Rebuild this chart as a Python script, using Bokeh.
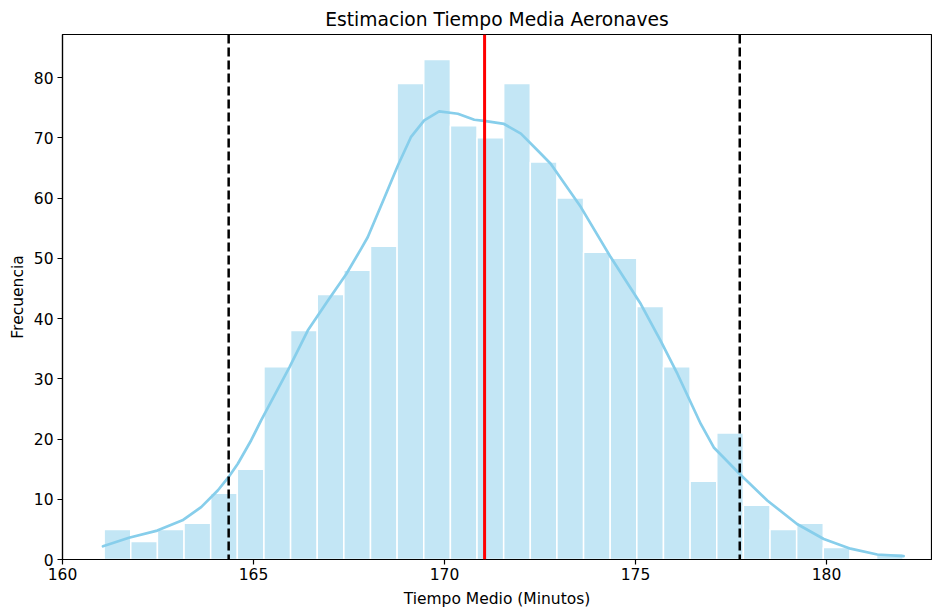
import numpy as np
from bokeh.plotting import figure
from bokeh.models import ColumnDataSource, Span, FixedTicker, Range1d
from bokeh.embed import file_html
from bokeh.resources import INLINE

# ---- data ----
bin_start = 161.09
bin_width = 0.6973
counts = [5, 3, 5, 6, 11, 15, 32, 38, 44, 48, 52, 79, 83, 72, 70,
          79, 66, 60, 51, 50, 42, 32, 13, 21, 9, 5, 6, 2, 0, 1]

kde_x = [161.06, 161.74, 162.48, 163.14, 163.63, 164.07, 164.35, 164.59, 164.94,
         165.20, 165.94, 166.42, 166.95, 167.43, 167.82, 167.99, 168.43, 168.78,
         169.12, 169.47, 169.86, 170.35, 170.78, 171.04, 171.56, 172.00, 172.44,
         172.78, 173.57, 174.35, 175.14, 175.66, 176.10, 176.71, 177.05, 177.73,
         178.45, 179.23, 179.93, 180.63, 181.33, 182.02]
kde_y = [2.2, 3.6, 4.8, 6.5, 8.7, 11.5, 13.7, 15.9, 19.8,
         23.1, 31.9, 38.0, 43.0, 47.4, 51.6, 53.5, 60.1, 65.4,
         70.1, 72.9, 74.4, 74.0, 73.0, 72.8, 72.3, 70.7, 67.9,
         65.7, 58.5, 50.2, 42.4, 36.3, 30.8, 22.5, 18.6, 14.2,
         9.8, 5.9, 3.4, 1.8, 0.83, 0.55]

mean_value = 171.05
ci_low = 164.35
ci_high = 177.73

x_ticks = [160, 165, 170, 175, 180]
y_ticks = [0, 10, 20, 30, 40, 50, 60, 70, 80]

title_text = "Estimacion Tiempo Media Aeronaves"
x_label = "Tiempo Medio (Minutos)"
y_label = "Frecuencia"

# ---- build ----
n = len(counts)
lefts = bin_start + bin_width * np.arange(n)
rights = lefts + bin_width
src = ColumnDataSource(dict(left=lefts, right=rights, top=counts, bottom=[0] * n))

FONT = "DejaVu Sans"
p = figure(width=932, height=610, output_backend="svg", toolbar_location=None,
           x_range=Range1d(160.0, 182.75), y_range=Range1d(0, 87.15),
           min_border_left=62, min_border_right=1, min_border_top=34,
           min_border_bottom=51)

p.quad(left="left", right="right", top="top", bottom="bottom", source=src,
       fill_color="#87CEEB", fill_alpha=0.5, line_color="white", line_width=1.5)

p.line(kde_x, kde_y, line_color="#87CEEB", line_width=2.7, line_join="round",
       line_cap="round")

p.add_layout(Span(location=mean_value, dimension="height", line_color="red",
                  line_width=3))
for loc in (ci_low, ci_high):
    p.add_layout(Span(location=loc, dimension="height", line_color="black",
                      line_width=2.5, line_dash="9 4"))

p.title.text = title_text
p.title.align = "center"
p.title.text_font = FONT
p.title.text_font_size = "18.7px"
p.title.text_font_style = "normal"
p.title.text_color = "black"

p.xgrid.visible = False
p.ygrid.visible = False
p.outline_line_color = "black"
p.outline_line_width = 1.2
p.outline_line_alpha = 1

p.xaxis.ticker = FixedTicker(ticks=x_ticks)
p.yaxis.ticker = FixedTicker(ticks=y_ticks)
p.xaxis.axis_label = x_label
p.yaxis.axis_label = y_label
for ax in (p.xaxis, p.yaxis):
    ax.axis_label_text_font = FONT
    ax.axis_label_text_font_size = "15.5px"
    ax.axis_label_text_font_style = "normal"
    ax.axis_label_text_color = "black"
    ax.major_label_text_font = FONT
    ax.major_label_text_font_size = "15.5px"
    ax.major_label_text_color = "black"
    ax.major_tick_out = 5
    ax.major_tick_in = 0
    ax.minor_tick_out = 0
    ax.minor_tick_in = 0
    ax.major_tick_line_color = "black"
    ax.major_tick_line_width = 1.2
    ax.axis_line_color = "black"
    ax.axis_line_width = 1.2
p.xaxis.axis_label_standoff = 7
p.yaxis.axis_label_standoff = 4
p.xaxis.major_label_standoff = 3
p.yaxis.major_label_standoff = 4

open("out.html", "w").write(file_html(p, INLINE))
